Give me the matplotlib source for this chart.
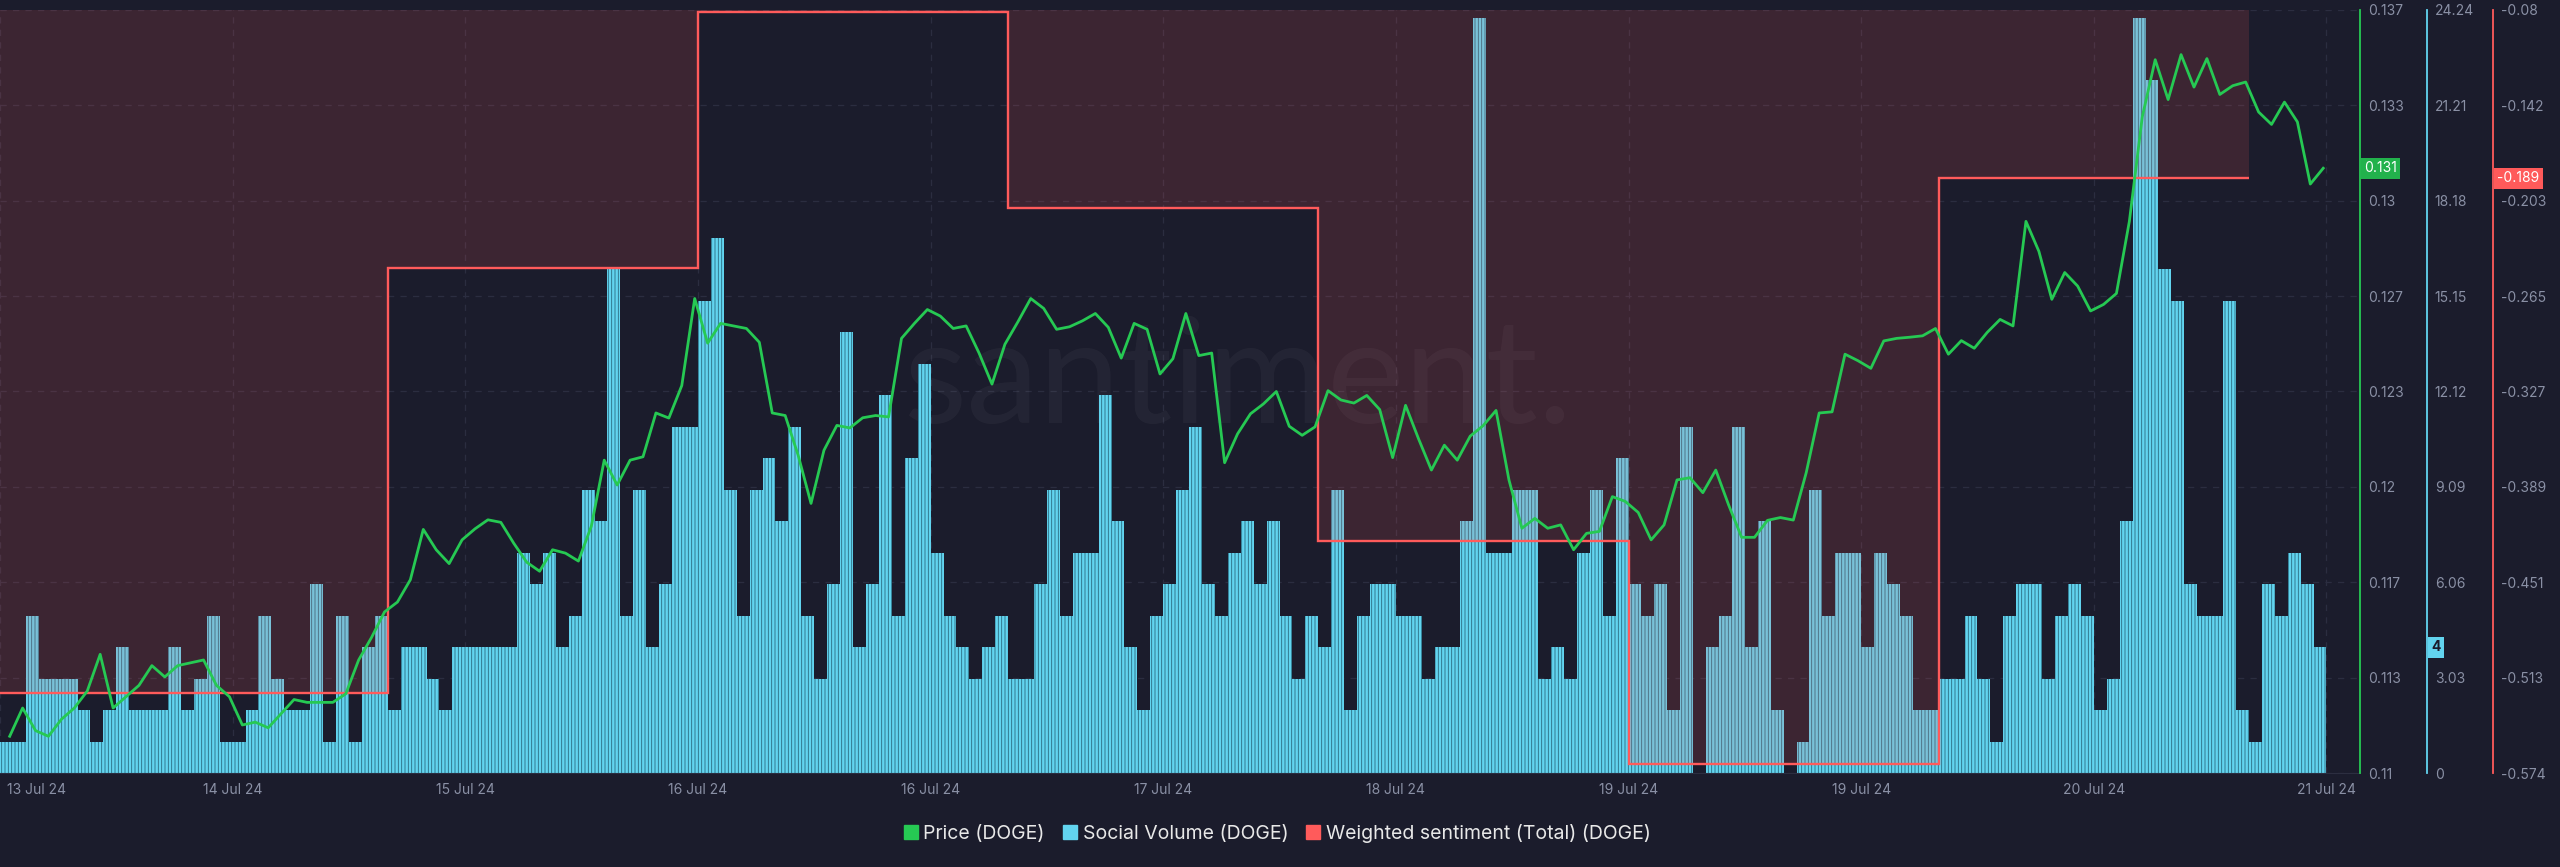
import numpy as np
import pandas as pd
import matplotlib
matplotlib.use("Agg")
import matplotlib.pyplot as plt
import matplotlib.dates as mdates
from matplotlib.lines import Line2D
from matplotlib.transforms import ScaledTranslation

plt.rcParams['font.family'] = ['Inter', 'DejaVu Sans']
plt.rcParams['hatch.linewidth'] = 0.6

# donnees (DOGE, 13 -> 21 juil. 2024), pas horaire
debut = "2024-07-13 18:00"

social_volume = [1, 1, 5, 3, 3, 3, 2, 1, 2, 4, 2, 2, 2, 4, 2, 3, 5, 1, 1, 2, 5, 3, 2, 2, 6, 1, 5, 1, 4, 5,
                 2, 4, 4, 3, 2, 4, 4, 4, 4, 4, 7, 6, 7, 4, 5, 9, 8, 16, 5, 9, 4, 6, 11, 11, 15, 17, 9, 5, 9, 10,
                 8, 11, 5, 3, 6, 14, 4, 6, 12, 5, 10, 13, 7, 5, 4, 3, 4, 5, 3, 3, 6, 9, 5, 7, 7, 12, 8, 4, 2, 5,
                 6, 9, 11, 6, 5, 7, 8, 6, 8, 5, 3, 5, 4, 9, 2, 5, 6, 6, 5, 5, 3, 4, 4, 8, 24, 7, 7, 9, 9, 3,
                 4, 3, 7, 9, 5, 10, 6, 5, 6, 2, 11, 0, 4, 5, 11, 4, 8, 2, 0, 1, 9, 5, 7, 7, 4, 7, 6, 5, 2, 2,
                 3, 3, 5, 3, 1, 5, 6, 6, 3, 5, 6, 5, 2, 3, 8, 24, 22, 16, 15, 6, 5, 5, 15, 2, 1, 6, 5, 7, 6, 4]

prix = [0.1113, 0.1123, 0.1115, 0.1113, 0.1119, 0.1123, 0.1129, 0.1142, 0.1123, 0.1127,
        0.1131, 0.1138, 0.1134, 0.1138, 0.1139, 0.1140, 0.1131, 0.1127, 0.1117, 0.1118,
        0.1116, 0.1121, 0.1126, 0.1125, 0.1125, 0.1125, 0.1128, 0.1140, 0.1148, 0.1157,
        0.11605, 0.11684, 0.11862, 0.1179, 0.11741, 0.11825, 0.11864, 0.11896, 0.11887, 0.11813,
        0.11746, 0.11714, 0.1179, 0.11778, 0.1175, 0.11873, 0.12107, 0.12019, 0.12107, 0.12119,
        0.12274, 0.12256, 0.12371, 0.12679, 0.12521, 0.12591, 0.12582, 0.12573, 0.12524, 0.12274,
        0.12265, 0.12125, 0.11954, 0.12142, 0.1223, 0.12221, 0.12257, 0.12265, 0.1226, 0.12538,
        0.12591, 0.1264, 0.12617, 0.12573, 0.12582, 0.12486, 0.12376, 0.12517, 0.12596, 0.12679,
        0.12644, 0.1257, 0.12579, 0.126, 0.12626, 0.12577, 0.12468, 0.12591, 0.1257, 0.12412,
        0.12466, 0.12626, 0.12477, 0.12486, 0.12098, 0.122, 0.12271, 0.12306, 0.1235, 0.12227,
        0.12195, 0.12225, 0.12353, 0.1232, 0.12309, 0.12336, 0.12286, 0.12116, 0.12301, 0.12183,
        0.12072, 0.1216, 0.12107, 0.12192, 0.12229, 0.12283, 0.12037, 0.11866, 0.11901, 0.11866,
        0.11878, 0.1179, 0.11848, 0.11855, 0.11978, 0.11961, 0.11922, 0.11825, 0.11878, 0.12037,
        0.12045, 0.11992, 0.12072, 0.11948, 0.11834, 0.11834, 0.11894, 0.11904, 0.11895, 0.12063,
        0.12274, 0.12278, 0.12482, 0.12459, 0.12432, 0.12529, 0.12538, 0.12542, 0.12547, 0.12573,
        0.12482, 0.1253, 0.12503, 0.12559, 0.12605, 0.12582, 0.12952, 0.12846, 0.12676, 0.12771,
        0.12723, 0.12635, 0.12658, 0.12697, 0.12952, 0.13322, 0.13524, 0.13383, 0.13542, 0.13427,
        0.13528, 0.13401, 0.13432, 0.13445, 0.13339, 0.13295, 0.13374, 0.13304, 0.13084, 0.1314]

# sentiment pondere : une valeur par jour (13 -> 20 juil.)
jours_sentiment = ["2024-07-13", "2024-07-14", "2024-07-15", "2024-07-16",
                   "2024-07-17", "2024-07-18", "2024-07-19", "2024-07-20", "2024-07-21"]
sentiment = [-0.522, -0.522, -0.247, -0.081, -0.208, -0.424, -0.568, -0.189]

# echelles et graduations
prix_lim = (0.11, 0.137)
volume_lim = (0, 24.24)
sentiment_lim = (-0.574, -0.08)
prix_ticks = ["0.11", "0.113", "0.117", "0.12", "0.123", "0.127", "0.13", "0.133", "0.137"]
volume_ticks = ["0", "3.03", "6.06", "9.09", "12.12", "15.15", "18.18", "21.21", "24.24"]
sentiment_ticks = ["-0.574", "-0.513", "-0.451", "-0.389", "-0.327", "-0.265", "-0.203", "-0.142", "-0.08"]

fond = '#1b1c2c'
vert = '#26c953'
cyan = '#62d4ef'
rouge = '#ff5b5b'
gris = '#8a90a5'

heures = pd.date_range(debut, periods=len(social_volume), freq="h")
heures_prix = heures + pd.Timedelta(minutes=45)

fig = plt.figure(figsize=(25.6, 8.67), dpi=100, facecolor=fond)
ax_vol = fig.add_axes([0, 0.1084, 0.9219, 0.8801])
ax_vol.set_facecolor(fond)
ax_sent = ax_vol.twinx()
ax_prix = ax_vol.twinx()

# volume social : barres horaires rayees
ax_vol.bar(heures, social_volume, width=1 / 24, align='edge', color=cyan,
           edgecolor='#2a6a80', linewidth=0, hatch='|||||', zorder=2)
ax_vol.text(0.5246, 0.459, "santiment.", transform=ax_vol.transAxes, ha='center',
            va='baseline', fontsize=105, family='Lato', color='white', alpha=0.04, zorder=1)

# sentiment : zone remplie jusqu'a zero + ligne en escalier
bords = mdates.date2num(pd.to_datetime(jours_sentiment))
ax_sent.stairs(sentiment, bords, baseline=0, fill=True, color=rouge, alpha=0.15, lw=0, zorder=1)
ax_sent.stairs(sentiment, bords, baseline=None, color=rouge, lw=1.7, zorder=3)

# prix
ax_prix.plot(heures_prix, prix, color=vert, lw=2.0, zorder=4)

ax_vol.set_xlim(heures[0], heures[-1] + pd.Timedelta(hours=3.6))
ax_vol.set_ylim(volume_lim)
ax_sent.set_ylim(sentiment_lim)
ax_prix.set_ylim(prix_lim)

pos_x = mdates.date2num(heures[0]) + np.linspace(0, len(social_volume) / 24, 11)
ax_vol.set_xticks(pos_x)
ax_vol.xaxis.set_major_formatter(mdates.DateFormatter('%d %b %y'))
ax_vol.tick_params(axis='x', length=0, pad=7, labelcolor=gris, labelsize=10)
premier = ax_vol.xaxis.get_major_ticks()[0].label1
premier.set_horizontalalignment('left')
premier.set_transform(premier.get_transform() + ScaledTranslation(5 / 72, 0, fig.dpi_scale_trans))

ax_vol.yaxis.tick_right()
ax_vol.set_yticks(np.linspace(*volume_lim, 9), volume_ticks)
ax_sent.set_yticks(np.linspace(*sentiment_lim, 9), sentiment_ticks)
ax_prix.set_yticks(np.linspace(*prix_lim, 9), prix_ticks)

ax_vol.grid(True, color='#2b2d40', ls=(0, (5, 5)), lw=0.9)
ax_vol.set_axisbelow(True)

for ax, pos, coul in [(ax_prix, 1.0, vert), (ax_vol, 1.02839, cyan), (ax_sent, 1.05636, rouge)]:
    for s in ['left', 'top', 'bottom']:
        ax.spines[s].set_visible(False)
    ax.spines['right'].set_position(('axes', pos))
    ax.spines['right'].set_color(coul)
    ax.spines['right'].set_linewidth(1.3)
    ax.tick_params(axis='y', length=0, pad=5.5, labelcolor=gris, labelsize=10)
ax_vol.spines['bottom'].set_visible(True)
ax_vol.spines['bottom'].set_color('#2c2e40')

# etiquettes des dernieres valeurs
boite = dict(xycoords=('axes fraction', 'data'), xytext=(4, 0), textcoords='offset pixels',
             ha='left', va='center', fontsize=10, annotation_clip=False, zorder=10)
ax_prix.annotate(f"{prix[-1]:.3f}", xy=(1.0, prix[-1]), color='white',
                 bbox=dict(boxstyle='square,pad=0.25', fc='#22b24c', ec='none'), **boite)
ax_vol.annotate(f"{social_volume[-1]}", xy=(1.02839, social_volume[-1]), color=fond, fontweight='bold',
                bbox=dict(boxstyle='square,pad=0.25', fc=cyan, ec='none'), **boite)
ax_sent.annotate(f"{sentiment[-1]:.3f}", xy=(1.05636, sentiment[-1]), color='white',
                 bbox=dict(boxstyle='square,pad=0.25', fc='#ff5a5a', ec='none'), **boite)

poignees = [Line2D([], [], marker='s', ls='none', color=c, markersize=10) for c in (vert, cyan, rouge)]
fig.legend(poignees, ["Price (DOGE)", "Social Volume (DOGE)", "Weighted sentiment (Total) (DOGE)"],
           loc='center', bbox_to_anchor=(0.4988, 0.0392), ncol=3, frameon=False, fontsize=14,
           labelcolor='#e8e8e8', handletextpad=0.25, columnspacing=0.9, handlelength=0.8)

fig.savefig("out.png", dpi=100, facecolor=fond)
